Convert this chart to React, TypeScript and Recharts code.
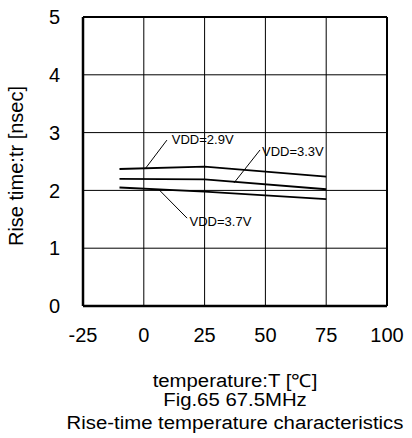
import React from 'react';
import {
    LineChart, Line, XAxis, YAxis, CartesianGrid, ReferenceLine, ReferenceDot,
} from 'recharts';

// 温度 (℃)
const temps = [-10, 25, 75];
// 立ち上がり時間 (nsec)
const vdd29 = [2.37, 2.41, 2.24];
const vdd33 = [2.20, 2.19, 2.02];
const vdd37 = [2.05, 1.98, 1.85];

const xTicks = [-25, 0, 25, 50, 75, 100];
const yTicks = [0, 1, 2, 3, 4, 5];

// 注釈: 引き出し線 [x1, y1, x2, y2] とラベル位置
const leaderNames = ['VDD=2.9V', 'VDD=3.3V', 'VDD=3.7V'];
const leaderLines = [
    [0.5, 2.37, 9.5, 2.87],
    [37.1, 2.13, 47.8, 2.70],
    [6.3, 2.01, 17.8, 1.52],
];
const leaderLabelAt = [
    [11.5, 2.89],
    [48.6, 2.68],
    [18.8, 1.47],
];

const data = temps.map((t, i) => ({
    t,
    v29: vdd29[i],
    v33: vdd33[i],
    v37: vdd37[i],
}));

const FONT = '"Liberation Sans", Arial, sans-serif';

// キャプション共通スタイル (元図は横に少し伸びているので scaleX で合わせる)
const captionStyle = (top: number): React.CSSProperties => ({
    position: 'absolute', left: 0, top, width: 470, textAlign: 'center',
    fontSize: 18, lineHeight: '18px', color: '#000', whiteSpace: 'nowrap',
    transform: 'scaleX(1.13)', transformOrigin: '235px 0',
});

export default function App() {
    return (
        <div style={{ position: 'absolute', left: 0, top: 0, width: 412, height: 438, background: '#fff', fontFamily: FONT }}>
            <LineChart width={412} height={438} data={data} margin={{ top: 17, right: 25, left: 0, bottom: 92 }}>
                <CartesianGrid stroke="#000" strokeWidth={1} />
                <XAxis
                    dataKey="t"
                    type="number"
                    domain={[-25, 100]}
                    ticks={xTicks}
                    height={40}
                    tickSize={0}
                    tickMargin={22}
                    tick={{ fill: '#000', fontSize: 20, fontFamily: FONT }}
                    axisLine={{ stroke: '#000', strokeWidth: 2.5 }}
                    tickLine={false}
                />
                <YAxis
                    type="number"
                    domain={[0, 5]}
                    ticks={yTicks}
                    width={83}
                    tickSize={0}
                    tickMargin={23}
                    tick={{ fill: '#000', fontSize: 20, fontFamily: FONT }}
                    axisLine={{ stroke: '#000', strokeWidth: 2.5 }}
                    tickLine={false}
                />
                <ReferenceLine y={5} stroke="#000" strokeWidth={2} />
                <ReferenceLine x={100} stroke="#000" strokeWidth={2} />
                <Line dataKey="v29" stroke="#000" strokeWidth={1.8} dot={false} isAnimationActive={false} />
                <Line dataKey="v33" stroke="#000" strokeWidth={1.8} dot={false} isAnimationActive={false} />
                <Line dataKey="v37" stroke="#000" strokeWidth={1.8} dot={false} isAnimationActive={false} />
                {leaderLines.map((s, i) => (
                    <ReferenceLine
                        key={`ll-${i}`}
                        segment={[{ x: s[0], y: s[1] }, { x: s[2], y: s[3] }]}
                        stroke="#000"
                        strokeWidth={1}
                    />
                ))}
                {leaderLabelAt.map((p, i) => (
                    <ReferenceDot
                        key={`lb-${i}`}
                        x={p[0]}
                        y={p[1]}
                        r={0}
                        fill="none"
                        stroke="none"
                        label={{ value: leaderNames[i], position: 'right', offset: 0, fill: '#000', fontSize: 13, fontFamily: FONT }}
                    />
                ))}
            </LineChart>

            {/* 縦軸ラベル */}
            <div style={{
                position: 'absolute', left: 16, top: 166, transform: 'translate(-50%, -50%) rotate(-90deg)',
                whiteSpace: 'nowrap', fontSize: 20, color: '#000',
            }}>Rise time:tr [nsec]</div>

            {/* 横軸ラベルとキャプション */}
            <div style={captionStyle(372)}>temperature:T [℃]</div>
            <div style={captionStyle(391)}>Fig.65 67.5MHz</div>
            <div style={captionStyle(414)}>Rise-time temperature characteristics</div>
        </div>
    );
}
